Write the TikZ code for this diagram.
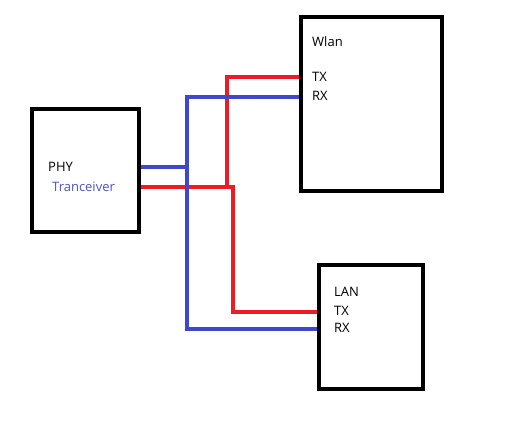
\documentclass[tikz,border=0pt]{standalone}
\usepackage{fontspec}
\setmainfont{Open Sans}
\begin{document}
\begin{tikzpicture}[x=1pt,y=-1pt,
  box/.style={draw=black,line width=4.5pt,minimum width=#1,inner sep=0pt,rectangle},
  lbl/.style={anchor=west,inner sep=0pt,font=\fontsize{13}{15}\selectfont,text=black},
  redw/.style={draw={rgb,255:red,237;green,28;blue,36},line width=4pt},
  bluew/.style={draw={rgb,255:red,63;green,72;blue,204},line width=4pt}]
\useasboundingbox (0,0) rectangle (520,424);
\node[box=107pt,minimum height=123pt] (phy) at (85.5,170.5) {};
\node[box=141pt,minimum height=174pt] (wlan) at (371.5,104) {};
\node[box=104pt,minimum height=124pt] (lan) at (371,327) {};
% labels
\node[lbl] (tphy) at (48,167) {PHY};
\node[lbl,text={rgb,255:red,80;green,80;blue,208}] (ttr) at (52,187) {Tranceiver};
\node[lbl] (twl) at (312,42) {Wlan};
\node[lbl] (twtx) at (312,77) {TX};
\node[lbl] (twrx) at (312,96) {RX};
\node[lbl] (tlan) at (334,292) {LAN};
\node[lbl] (tltx) at (334,311) {TX};
\node[lbl] (tlrx) at (334,328) {RX};
% coordinates
\coordinate (phyrx) at (phy.east |- 0,167);
\coordinate (phytx) at (phy.east |- 0,187);
\coordinate (wtx) at (wlan.west |- 0,77);
\coordinate (wrx) at (wlan.west |- 0,97);
\coordinate (ltx) at (lan.west |- 0,312);
\coordinate (lrx) at (lan.west |- 0,329);
\coordinate (bj) at (187,167);
\coordinate (rj) at (227,187);
% red
\draw[redw] (phytx) -- (233,187) -- (233,312) -- (ltx);
\draw[redw] (rj) -- (227,77) -- (wtx);
% blue
\draw[bluew] (phyrx) -- (bj);
\draw[bluew] (wrx) -- (187,97) -- (187,329) -- (lrx);
\end{tikzpicture}
\end{document}
